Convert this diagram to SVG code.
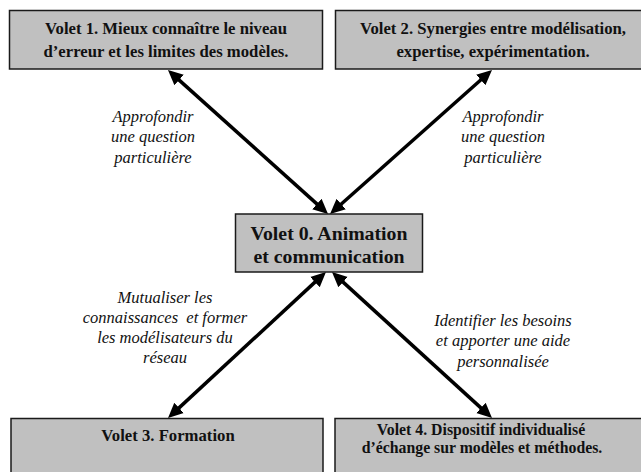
<svg xmlns="http://www.w3.org/2000/svg" width="641" height="472" viewBox="0 0 641 472">
<style>
.box{fill:#c0c0c0;stroke:#1a1a1a;stroke-width:1.5}
.t{font-family:'Liberation Serif','DejaVu Serif',serif;font-weight:bold;font-size:16.7px;fill:#111;text-anchor:middle}
.t0{font-size:19.8px}
.t4{font-size:15.8px}
.lbl{font-family:'Liberation Serif','DejaVu Serif',serif;font-style:italic;font-size:16.5px;fill:#111;text-anchor:middle}
.arr{stroke:#000;stroke-width:3.5;fill:none;marker-start:url(#ah);marker-end:url(#ah)}
</style>
<defs>
<marker id="ah" markerUnits="userSpaceOnUse" markerWidth="18" markerHeight="16" viewBox="0 -8 18 16" refX="7" refY="0" orient="auto-start-reverse">
<path d="M0,-7 L15,0 L0,7 z" fill="#000"/>
</marker>
</defs>
<rect width="641" height="472" fill="#fff"/>
<g id="connectors">
<line class="arr" x1="173.9" y1="75.4" x2="322.1" y2="208.6"/>
<line class="arr" x1="486" y1="75.3" x2="336" y2="208.7"/>
<line class="arr" x1="320.1" y1="277.4" x2="173.9" y2="412.6"/>
<line class="arr" x1="337.9" y1="277.4" x2="486.1" y2="412.6"/>
</g>
<g id="volet1">
<rect class="box" x="9.5" y="10.5" width="313" height="58.5"/>
<text class="t" x="166" y="34">Volet 1. Mieux connaître le niveau</text>
<text class="t" x="166" y="57">d’erreur et les limites des modèles.</text>
</g>
<g id="volet2">
<rect class="box" x="335.5" y="10.5" width="313" height="58.5"/>
<text class="t" x="493" y="34">Volet 2. Synergies entre modélisation,</text>
<text class="t" x="493" y="57">expertise, expérimentation.</text>
</g>
<g id="volet0">
<rect class="box" x="235.5" y="214" width="187" height="58"/>
<text class="t t0" x="329" y="240">Volet 0. Animation</text>
<text class="t t0" x="329" y="263">et communication</text>
</g>
<g id="volet3">
<rect class="box" x="11" y="418.5" width="312" height="60"/>
<text class="t" x="168" y="441">Volet 3. Formation</text>
</g>
<g id="volet4">
<rect class="box" x="335" y="418.5" width="313" height="60"/>
<text class="t t4" x="481" y="435">Volet 4. Dispositif individualisé</text>
<text class="t t4" x="482" y="453">d’échange sur modèles et méthodes.</text>
</g>
<g id="labels">
<text class="lbl" x="153" y="122">Approfondir</text>
<text class="lbl" x="153" y="142">une question</text>
<text class="lbl" x="153" y="163">particulière</text>
<text class="lbl" x="503" y="122">Approfondir</text>
<text class="lbl" x="503" y="142">une question</text>
<text class="lbl" x="503" y="163">particulière</text>
<text class="lbl" x="165" y="303">Mutualiser les</text>
<text class="lbl" x="165" y="323" xml:space="preserve">connaissances  et former</text>
<text class="lbl" x="165" y="343">les modélisateurs du</text>
<text class="lbl" x="165" y="363">réseau</text>
<text class="lbl" x="503" y="326">Identifier les besoins</text>
<text class="lbl" x="503" y="346">et apporter une aide</text>
<text class="lbl" x="503" y="367">personnalisée</text>
</g>
</svg>
